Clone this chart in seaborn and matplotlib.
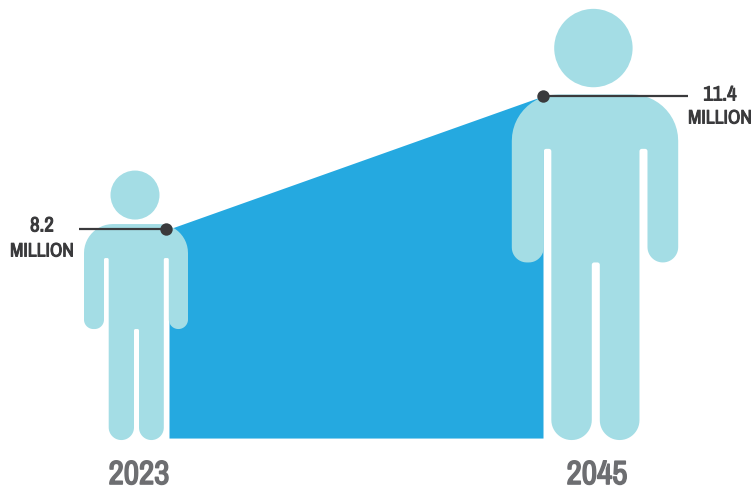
import numpy as np
import pandas as pd
import matplotlib
matplotlib.use("Agg")
import matplotlib.pyplot as plt
import matplotlib.patheffects as pe
from matplotlib.patches import Circle, PathPatch
from matplotlib.path import Path
from matplotlib.transforms import Affine2D
from matplotlib import font_manager as fm
import seaborn as sns

# ---- data ----
years = [2023, 2045]
population_millions = [8.2, 11.4]
value_labels = ["8.2", "11.4"]
unit_label = "MILLION"
year_labels = ["2023", "2045"]

# ---- style ----
AREA = "#25A9E0"
PERSON = "#A4DDE5"
DARK = "#3A3A3C"
GREY = "#6D6E71"
installed = {f.name for f in fm.fontManager.ttflist}
FONT = [f for f in ["Archivo Narrow", "Oswald", "Liberation Sans", "DejaVu Sans"] if f in installed]
k = 1.0 if FONT[0] in ("Archivo Narrow", "Oswald") else 0.8
BASELINE = 3.17
PX_PER_YEAR = 17.0
PX_PER_MILLION = 41.56

sns.set_theme(style="white")
plt.rcParams["font.family"] = FONT

df = pd.DataFrame({"year": years, "population": population_millions})

fig = plt.figure(figsize=(7.56, 4.90), dpi=100, facecolor="white")
ax = fig.add_axes([0, 0, 1, 1])
ax.set_xlim(2023 - 169 / PX_PER_YEAR, 2023 + (756 - 169) / PX_PER_YEAR)
ax.set_ylim(8.2 - (490 - 229) / PX_PER_MILLION, 8.2 + 229 / PX_PER_MILLION)

# growth area
ax.fill_between(df["year"], BASELINE, df["population"], color=AREA, lw=0, zorder=1)


# ---- pictogram glyph (unit: pixels of the small figure, origin at the feet) ----
def rounded_outline(corners, n=14):
    """Closed outline through corners (x, y, radius) with rounded joins."""
    pts = []
    m = len(corners)
    c = 0.5523
    for i in range(m):
        p = np.array(corners[i][:2], float)
        r = corners[i][2]
        a = np.array(corners[i - 1][:2], float)
        b = np.array(corners[(i + 1) % m][:2], float)
        ua = (a - p) / np.linalg.norm(a - p)
        ub = (b - p) / np.linalg.norm(b - p)
        p0, p3 = p + ua * r, p + ub * r
        p1, p2 = p0 - ua * r * c, p3 - ub * r * c
        for t in np.linspace(0, 1, n):
            pts.append((1 - t) ** 3 * p0 + 3 * (1 - t) ** 2 * t * p1
                       + 3 * (1 - t) * t ** 2 * p2 + t ** 3 * p3)
    return np.array(pts)


GLYPH = [
    (-52, 216, 29), (52, 216, 29), (52, 111, 9.6), (32.8, 111, 9.6),
    (32.8, 182, 1.5), (27.8, 182, 1.5), (27.8, 0, 12.4), (3, 0, 12.4),
    (3, 111, 1.5), (-2, 111, 1.5), (-2, 0, 12.6), (-27.3, 0, 12.6),
    (-27.3, 182, 1.5), (-32, 182, 1.5), (-32, 111, 9.4), (-52, 111, 9.4),
]
HEAD_Y, HEAD_R = 245.0, 24.5

person_x = [2023 - 33 / PX_PER_YEAR, 2045 + 52 / PX_PER_YEAR]
person_scale = [1.0, 1.6]
outline = rounded_outline(GLYPH)
for cx, s in zip(person_x, person_scale):
    x0, y0 = ax.transData.transform((cx, BASELINE))
    tr = Affine2D().scale(s).translate(x0, y0 - 2)
    codes = [Path.MOVETO] + [Path.LINETO] * (len(outline) - 1) + [Path.CLOSEPOLY]
    verts = np.vstack([outline, outline[0]])
    ax.add_patch(PathPatch(Path(verts, codes), fc=PERSON, ec="none",
                           transform=tr, zorder=2))
    # head sits a touch left of the body centre in the large figure
    ax.add_patch(Circle((-1, HEAD_Y), HEAD_R, fc=PERSON, ec="none",
                        transform=tr, zorder=2))

# ---- markers and leaders ----
dot_x = [2023 - 3 / PX_PER_YEAR, 2045]
leader_end = [2023 - 90 / PX_PER_YEAR, 2045 + 145 / PX_PER_YEAR]
for x, end, v in zip(dot_x, leader_end, population_millions):
    ax.plot([x, end], [v, v], color=DARK, lw=1.6, solid_capstyle="butt", zorder=3)
sns.scatterplot(x=dot_x, y=population_millions, color=DARK, s=80, linewidth=0,
                ax=ax, zorder=4, legend=False)

# ---- labels ----
thin = [pe.withStroke(linewidth=0.7, foreground=DARK)]
thick = [pe.withStroke(linewidth=1.1, foreground=GREY)]
value_dx = [-124, 177]
value_dy = [3, 1]
unit_dy = [-22, -22]
for x, v, t, dx, dy, udy in zip(dot_x, population_millions, value_labels,
                                value_dx, value_dy, unit_dy):
    ax.annotate(t, (x, v), xytext=(dx, dy), textcoords="offset pixels",
                ha="center", va="center", fontsize=15 * k, fontweight="bold",
                color=DARK, zorder=5, path_effects=thin)
    ax.annotate(unit_label, (x, v), xytext=(dx, udy), textcoords="offset pixels",
                ha="center", va="center", fontsize=14 * k, fontweight="bold",
                color=DARK, zorder=5, path_effects=thin)

year_dx = [-30, 54]
for x, t, dx in zip(years, year_labels, year_dx):
    ax.annotate(t, (x, BASELINE), xytext=(dx, -37), textcoords="offset pixels",
                ha="center", va="center", fontsize=24 * k, fontweight="bold",
                color=GREY, zorder=5, path_effects=thick)

ax.set_xlabel("")
ax.set_ylabel("")
ax.axis("off")
fig.savefig("out.png", dpi=100, facecolor="white")
